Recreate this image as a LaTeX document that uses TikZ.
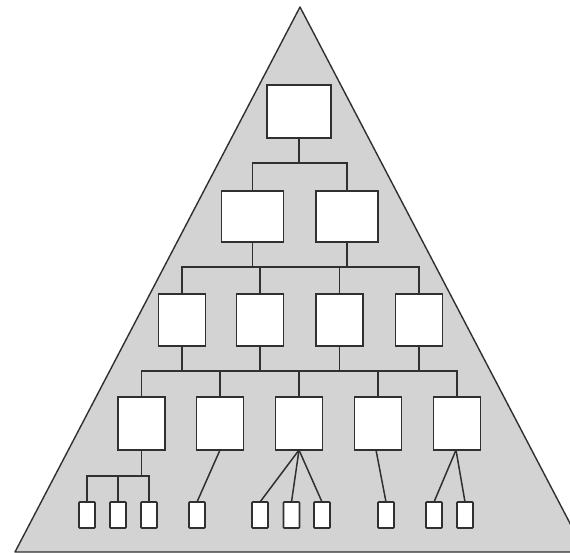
\documentclass[tikz,border=0pt]{standalone}
\usetikzlibrary{calc}
\definecolor{tri}{HTML}{D3D3D3}
\definecolor{ln}{HTML}{303030}
\begin{document}
\begin{tikzpicture}[x=1pt,y=-1pt,
  box/.style={draw=ln,line width=1.7pt,fill=white,inner sep=0pt,outer sep=0pt},
  lvla/.style={box,minimum width=64pt,minimum height=53pt},
  lvlb/.style={box,minimum width=62pt,minimum height=51pt},
  lvlc/.style={box,minimum width=47pt,minimum height=52pt},
  lvld/.style={box,minimum width=47pt,minimum height=53pt},
  leaf/.style={box,line width=1.6pt,minimum width=16pt,minimum height=26pt,rounded corners=0.8pt},
  con/.style={draw=ln,line width=1.7pt},
  thin/.style={draw=ln,line width=1.5pt}]
\useasboundingbox (0,0) rectangle (570,553);
\fill[white] (0,0) rectangle (570,553);
\begin{scope}
\clip (0,0) rectangle (570,553);
\draw[fill=tri,draw=ln,line width=1.4pt,line join=round] (15,552) -- (300,7) -- (585,552) -- cycle;
\end{scope}
% level 1
\node[lvla] (a) at (299,111.5) {};
% level 2
\node[lvlb] (b1) at (252.5,216.5) {};
\node[lvlb] (b2) at (347,216.5) {};
% level 3
\node[lvlc] (c1) at (182,320) {};
\node[lvlc] (c2) at (260,320) {};
\node[lvlc] (c3) at (339.5,320) {};
\node[lvlc] (c4) at (419,320) {};
% level 4
\node[lvld] (d1) at (141.5,423.5) {};
\node[lvld] (d2) at (220,423.5) {};
\node[lvld] (d3) at (299,423.5) {};
\node[lvld] (d4) at (378,423.5) {};
\node[lvld] (d5) at (457,423.5) {};
% leaves
\node[leaf] (e1) at (87,515) {};
\node[leaf] (e2) at (118,515) {};
\node[leaf] (e3) at (149,515) {};
\node[leaf] (e4) at (197,515) {};
\node[leaf] (e5) at (260,515) {};
\node[leaf] (e6) at (291.5,515) {};
\node[leaf] (e7) at (322,515) {};
\node[leaf] (e8) at (386,515) {};
\node[leaf] (e9) at (434,515) {};
\node[leaf] (e10) at (465,515) {};
% buses
\coordinate (bus1) at (0,163);
\coordinate (bus2) at (0,267);
\coordinate (bus3) at (0,371);
\coordinate (bus4) at (0,476);
% level1 -> level2
\draw[con] (a.south) -- (a.south |- bus1);
\draw[con] (b1.north) -- (b1.north |- bus1) -- (b2.north |- bus1) -- (b2.north);
% level2 -> level3
\draw[con] (b1.south) -- (b1.south |- bus2);
\draw[con] (b2.south) -- (b2.south |- bus2);
\draw[con] (c1.north) -- (c1.north |- bus2) -- (c4.north |- bus2) -- (c4.north);
\draw[con] (c2.north) -- (c2.north |- bus2);
\draw[con] (c3.north) -- (c3.north |- bus2);
% level3 -> level4
\foreach \n in {c1,c2,c3,c4} \draw[con] (\n.south) -- (\n.south |- bus3);
\draw[con] (d1.north) -- (d1.north |- bus3) -- (d5.north |- bus3) -- (d5.north);
\foreach \n in {d2,d3,d4} \draw[con] (\n.north) -- (\n.north |- bus3);
% level4 -> leaves
\draw[con] (d1.south) -- (d1.south |- bus4);
\draw[con] (e1.north) -- (e1.north |- bus4) -- (e3.north |- bus4) -- (e3.north);
\draw[con] (e2.north) -- (e2.north |- bus4);
\draw[thin] (d2.south) -- (e4.north);
\draw[thin] (d3.south) -- (e5.north);
\draw[thin] (d3.south) -- (e6.north);
\draw[thin] (d3.south) -- (e7.north);
\draw[thin] ($(d4.south)+(-2,0)$) -- (e8.north);
\draw[thin] ($(d5.south)+(-1,0)$) -- (e9.north);
\draw[thin] ($(d5.south)+(-1,0)$) -- (e10.north);
\end{tikzpicture}
\end{document}
